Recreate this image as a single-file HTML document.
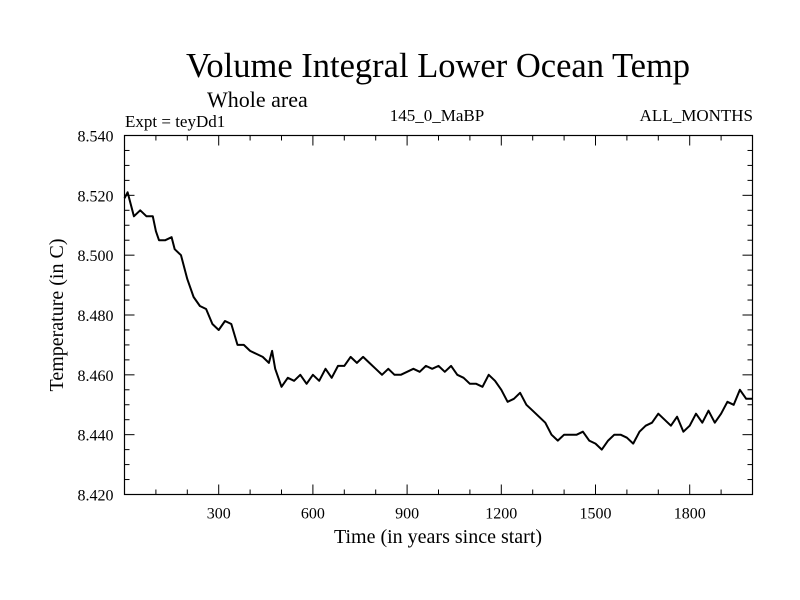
<!DOCTYPE html>
<html><head><meta charset="utf-8"><style>
body{margin:0;background:#fff}
svg{display:block;font-family:"Liberation Serif",serif}
</style></head><body>
<svg width="800" height="600">
<text x="438" y="77" font-size="34.5" text-anchor="middle">Volume Integral Lower Ocean Temp</text>
<text x="207" y="107" font-size="22">Whole area</text>
<text x="125" y="127" font-size="17">Expt = teyDd1</text>
<text x="437" y="121" font-size="17" text-anchor="middle">145_0_MaBP</text>
<text x="753" y="121" font-size="17" text-anchor="end">ALL_MONTHS</text>
<text transform="translate(63,315) rotate(-90)" font-size="20" text-anchor="middle">Temperature (in C)</text>
<text x="438" y="543" font-size="20" text-anchor="middle">Time (in years since start)</text>
<g id="ticks"></g>
<path id="line" fill="none" stroke="#000" stroke-width="2" stroke-linejoin="round"></path>
<rect x="124.5" y="135.5" width="628" height="359" fill="none" stroke="#000" stroke-width="1.2"/>
</svg>
<script>
const years=[0,10,30,50,70,90,100,110,130,150,160,180,200,220,240,260,280,300,320,340,360,380,400,420,440,460,470,480,500,520,540,560,580,600,620,640,660,680,700,720,740,760,780,800,820,840,860,880,900,920,940,960,980,1000,1020,1040,1060,1080,1100,1120,1140,1160,1180,1200,1220,1240,1260,1280,1300,1320,1340,1360,1380,1400,1420,1440,1460,1480,1500,1520,1540,1560,1580,1600,1620,1640,1660,1680,1700,1720,1740,1760,1780,1800,1820,1840,1860,1880,1900,1920,1940,1960,1980,2000];
const temps=[8.519,8.521,8.513,8.515,8.513,8.513,8.508,8.505,8.505,8.506,8.502,8.500,8.492,8.486,8.483,8.482,8.477,8.475,8.478,8.477,8.470,8.470,8.468,8.467,8.466,8.464,8.468,8.462,8.456,8.459,8.458,8.460,8.457,8.460,8.458,8.462,8.459,8.463,8.463,8.466,8.464,8.466,8.464,8.462,8.460,8.462,8.460,8.460,8.461,8.462,8.461,8.463,8.462,8.463,8.461,8.463,8.460,8.459,8.457,8.457,8.456,8.460,8.458,8.455,8.451,8.452,8.454,8.450,8.448,8.446,8.444,8.440,8.438,8.440,8.440,8.440,8.441,8.438,8.437,8.435,8.438,8.440,8.440,8.439,8.437,8.441,8.443,8.444,8.447,8.445,8.443,8.446,8.441,8.443,8.447,8.444,8.448,8.444,8.447,8.451,8.450,8.455,8.452,8.452];
const xTickLabels=[300,600,900,1200,1500,1800];
const yTickLabels=["8.420","8.440","8.460","8.480","8.500","8.520","8.540"];
const X0=124.5,X1=752.5,Y0=494.5,Y1=135.5,XMIN=0,XMAX=2000,YMIN=8.42,YMAX=8.54;
const sx=v=>X0+(v-XMIN)/(XMAX-XMIN)*(X1-X0);
const sy=v=>Y0-(v-YMIN)/(YMAX-YMIN)*(Y0-Y1);
const NS="http://www.w3.org/2000/svg";
const g=document.getElementById('ticks');
function ln(x1,y1,x2,y2){const l=document.createElementNS(NS,'line');l.setAttribute('x1',x1);l.setAttribute('y1',y1);l.setAttribute('x2',x2);l.setAttribute('y2',y2);l.setAttribute('stroke','#000');l.setAttribute('stroke-width','1');


g.appendChild(l);}
function tx(x,y,s,a,name){const t=document.createElementNS(NS,'text');t.setAttribute('x',x);t.setAttribute('y',y);t.setAttribute('font-size','16');t.setAttribute('text-anchor',a);t.textContent=s;


g.appendChild(t);}
for(let v=100;v<2000;v+=100){const x=sx(v);const major=v%300===0;ln(x,Y0,x,Y0-(major?10:5));ln(x,Y1,x,Y1+(major?10:5));}
xTickLabels.forEach(v=>tx(sx(v),Y0+24,String(v),'middle','x-tick-label'));
for(let i=0;i<=24;i++){const v=YMIN+i*0.005;const y=sy(v);const major=i%4===0;ln(X0,y,X0+(major?10:5),y);ln(X1,y,X1-(major?10:5),y);}
yTickLabels.forEach(s=>tx(X0-11,sy(parseFloat(s))+6,s,'end','y-tick-label'));
document.getElementById('line').setAttribute('d',years.map((y,i)=>(i?'L':'M')+sx(y).toFixed(1)+','+sy(temps[i]).toFixed(1)).join(''));
</script>
</body></html>
